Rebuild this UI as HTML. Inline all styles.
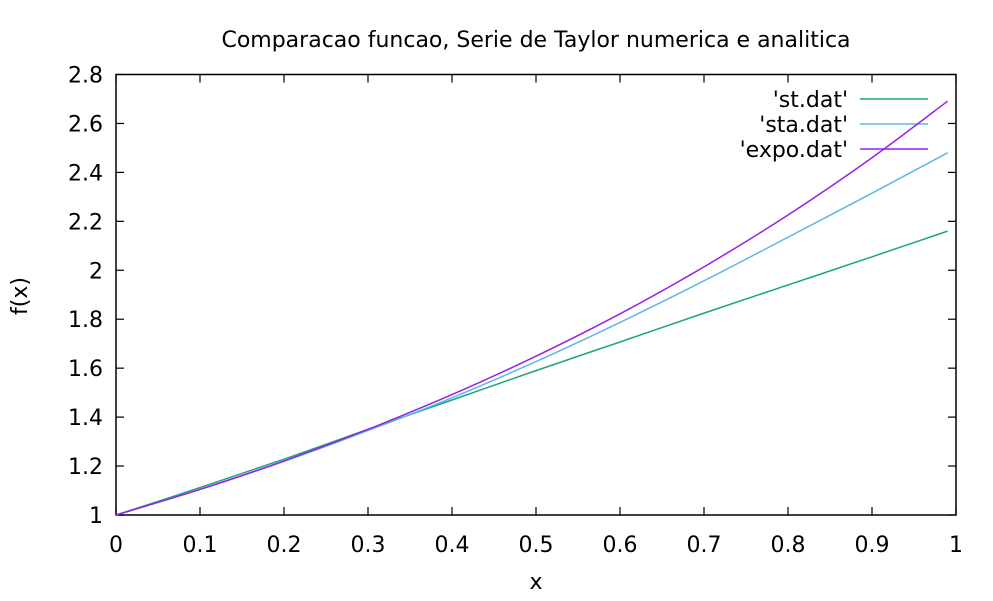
<!DOCTYPE html>
<html><head><meta charset="utf-8"><style>
body{margin:0;background:#fff}
text{font-family:"DejaVu Sans","Liberation Sans",sans-serif;font-size:22px;fill:#000}
</style></head><body>
<svg id="c" width="993" height="596"></svg>
<script>
const xs=[0,0.1,0.2,0.3,0.4,0.5,0.6,0.7,0.8,0.9,0.99];
const stVals=[1,1.112,1.228,1.35,1.47,1.59,1.707,1.825,1.94,2.055,2.16];
const staVals=[1,1.104,1.219,1.345,1.479,1.627,1.787,1.957,2.135,2.315,2.48];
const expoVals=[1,1.105,1.221,1.350,1.492,1.649,1.822,2.014,2.226,2.460,2.691];
const xTicks=[0,0.1,0.2,0.3,0.4,0.5,0.6,0.7,0.8,0.9,1];
const yTicks=[1,1.2,1.4,1.6,1.8,2,2.2,2.4,2.6,2.8];
const L=116,R=956,T=74.5,B=515;
const X=v=>L+(v-0)/1*(R-L), Y=v=>B-(v-1)/1.8*(B-T);
const svg=document.getElementById('c'),NS='http://www.w3.org/2000/svg';
function el(t,a,txt){const e=document.createElementNS(NS,t);for(const k in a)e.setAttribute(k,a[k]);if(txt!==undefined)e.textContent=txt;svg.appendChild(e);return e;}
function smooth(pts){let d='M'+pts[0][0]+','+pts[0][1];for(let i=0;i<pts.length-1;i++){const p0=pts[i-1]||pts[i],p1=pts[i],p2=pts[i+1],p3=pts[i+2]||p2;const c1=[p1[0]+(p2[0]-p0[0])/6,p1[1]+(p2[1]-p0[1])/6],c2=[p2[0]-(p3[0]-p1[0])/6,p2[1]-(p3[1]-p1[1])/6];d+=' C'+c1+' '+c2+' '+p2;}return d;}
let e=el('rect',{x:L,y:T,width:R-L,height:B-T,fill:'none',stroke:'#000','stroke-width':1.5});


xTicks.forEach(v=>{
 let t=el('line',{x1:X(v),x2:X(v),y1:B,y2:B-8,stroke:'#000','stroke-width':1.2});
 
 
 t=el('line',{x1:X(v),x2:X(v),y1:T,y2:T+8,stroke:'#000','stroke-width':1.2});
 
 
 t=el('text',{x:X(v),y:B+37,'text-anchor':'middle'},String(v));
 
 
});
yTicks.forEach(v=>{
 let t=el('line',{x1:L,x2:L+8,y1:Y(v),y2:Y(v),stroke:'#000','stroke-width':1.2});
 
 
 t=el('line',{x1:R,x2:R-8,y1:Y(v),y2:Y(v),stroke:'#000','stroke-width':1.2});
 
 
 t=el('text',{x:L-13,y:Y(v)+8,'text-anchor':'end'},String(v));
 
 
});
const series=[['st.dat',stVals,'#1aa67a'],['sta.dat',staVals,'#5ab8e8'],['expo.dat',expoVals,'#9b1fe6']];
series.forEach((s,i)=>{
 let p=el('path',{d:smooth(xs.map((x,j)=>[X(x),Y(s[1][j])])),fill:'none',stroke:s[2],'stroke-width':1.5});
 
 
 const ly=99+i*25;
 let t=el('text',{x:848,y:ly+8,'text-anchor':'end'},"'"+s[0]+"'");
 
 
 t=el('line',{x1:860,x2:928,y1:ly,y2:ly,stroke:s[2],'stroke-width':1.5});
 
 
});
e=el('text',{x:536,y:47,'text-anchor':'middle'},'Comparacao funcao, Serie de Taylor numerica e analitica');


e=el('text',{x:536,y:589,'text-anchor':'middle'},'x');


e=el('text',{x:27,y:296,'text-anchor':'middle',transform:'rotate(-90 27 296)'},'f(x)');


</script>
</body></html>
